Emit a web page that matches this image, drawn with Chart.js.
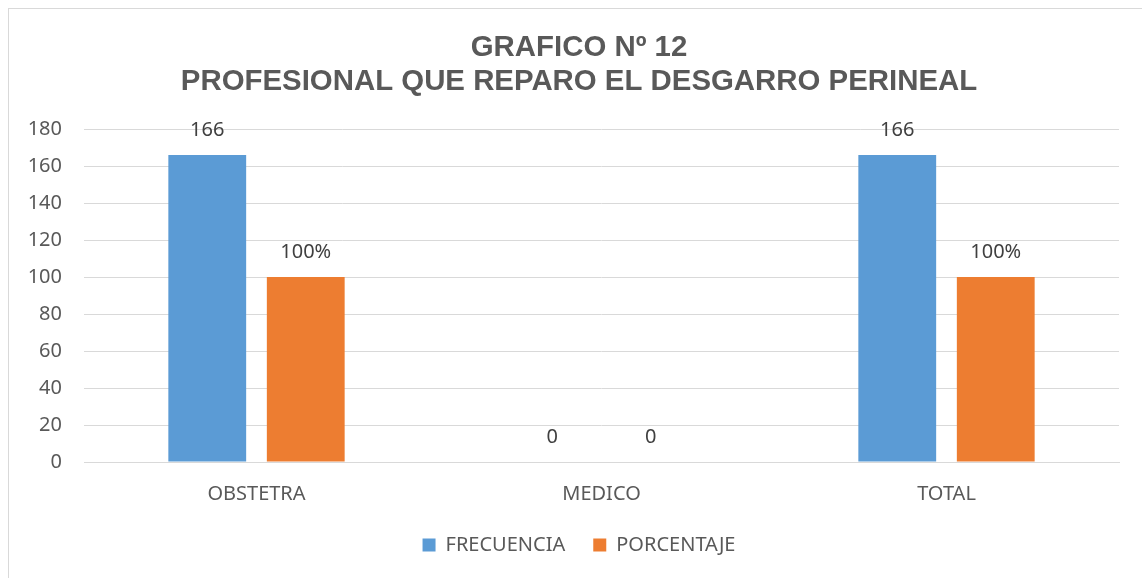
<!DOCTYPE html>
<html>
<head>
<meta charset="utf-8">
<script src="https://cdn.jsdelivr.net/npm/chart.js@4.4.1/dist/chart.umd.min.js"></script>
<style>
  body { margin: 0; background: #fff; }
  .chart-box {
    position: absolute; left: 8px; top: 8px;
    width: 1140px; height: 580px;
    border: 1px solid #d9d9d9;
    background: #fff;
  }
</style>
</head>
<body>
<div class="chart-box"><canvas id="chart" width="1140" height="580"></canvas></div>
<script>
const categories = ["OBSTETRA", "MEDICO", "TOTAL"];
const frecuencia = [166, 0, 166];
const porcentaje = [100, 0, 100];
const yTicks = { min: 0, max: 180, step: 20 };

const textColor = "#595959";
const gridColor = "#d9d9d9";
const labelFont = "'Noto Sans'";

// value labels above each bar
const barLabels = {
  id: "barLabels",
  afterDatasetsDraw(chart) {
    const ctx = chart.ctx;
    ctx.save();
    ctx.font = "20px " + labelFont;
    ctx.fillStyle = "#404040";
    ctx.textAlign = "center";
    ctx.textBaseline = "middle";
    chart.data.datasets.forEach((ds, i) => {
      const meta = chart.getDatasetMeta(i);
      meta.data.forEach((bar, j) => {
        const v = ds.data[j];
        const txt = (i === 1 && v > 0) ? v + "%" : String(v);
        ctx.fillText(txt, bar.x, bar.y - 25);
      });
    });
    ctx.restore();
  }
};

const ctx = document.getElementById("chart").getContext("2d");
new Chart(ctx, {
  type: "bar",
  data: {
    labels: categories,
    datasets: [
      { label: "FRECUENCIA", data: frecuencia, backgroundColor: "#5B9BD5" },
      { label: "PORCENTAJE", data: porcentaje, backgroundColor: "#ED7D31" },
    ],
  },
  options: {
    responsive: false,
    animation: false,
    categoryPercentage: 0.571,
    barPercentage: 0.79,
    layout: { padding: { left: 0, right: 0, top: 0, bottom: 24 } },
    plugins: {
      tooltip: { enabled: false },
      title: {
        display: true,
        text: ["GRAFICO Nº 12", "PROFESIONAL QUE REPARO EL DESGARRO PERINEAL"],
        color: textColor,
        font: { family: "'Liberation Sans', Arial", size: 29.4, weight: "bold", lineHeight: 34 / 29.4 },
        padding: { top: 22, bottom: 30 },
      },
      legend: {
        position: "bottom",
        labels: {
          color: textColor,
          font: { family: labelFont, size: 20 },
          boxWidth: 13,
          boxHeight: 13,
          padding: 28,
        },
      },
    },
    scales: {
      x: {
        grid: { display: false, drawTicks: false },
        border: { display: true, color: gridColor },
        ticks: { color: textColor, font: { family: labelFont, size: 20 }, padding: 20 },
        afterFit(scale) { scale.height = 45; },
      },
      y: {
        min: yTicks.min,
        max: yTicks.max,
        grid: { color: gridColor, drawTicks: false },
        border: { display: false },
        ticks: {
          stepSize: yTicks.step,
          color: textColor,
          font: { family: labelFont, size: 20 },
          padding: 22,
        },
        afterFit(scale) { scale.width = 75; },
      },
      // empty right axis, only keeps the right margin of the plot
      yRight: {
        position: "right",
        display: true,
        grid: { display: false, drawTicks: false },
        border: { display: false },
        ticks: { display: false },
        afterFit(scale) { scale.width = 30; },
      },
    },
  },
  plugins: [barLabels],
});
</script>
</body>
</html>
